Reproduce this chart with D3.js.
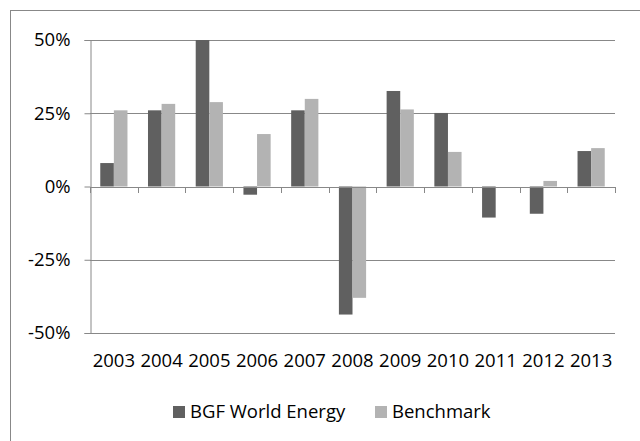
<!DOCTYPE html>
<html>
<head>
<meta charset="utf-8">
<script src="https://cdn.jsdelivr.net/npm/d3@7"></script>
<style>
  html, body { margin: 0; padding: 0; background: #fff; }
  svg { display: block; }
  text { font-family: "Open Sans", "Noto Sans", sans-serif; fill: #000; }
</style>
</head>
<body>
<svg id="chart" width="640" height="441"></svg>
<script>
const categories = ["2003","2004","2005","2006","2007","2008","2009","2010","2011","2012","2013"];
const seriesNames = ["BGF World Energy", "Benchmark"];
const fundValues = [8, 26, 50, -2.8, 26, -43.7, 32.6, 25.1, -10.6, -9.3, 12.1];
const benchmarkValues = [26, 28.2, 28.8, 17.9, 29.9, -38, 26.3, 11.8, 0, 1.9, 13.1];
const yTicks = [-50, -25, 0, 25, 50];
const colors = ["#606060", "#b3b3b3"];

const svg = d3.select("#chart");
const W = 640, H = 441;

// outer chart border (extends past the canvas, as in the reference)
svg.append("rect")
  .attr("x", 10.5).attr("y", 10.5)
  .attr("width", W).attr("height", H)
  .attr("fill", "#fff").attr("stroke", "#888").attr("stroke-width", 1);

const plot = { left: 90, right: 615, top: 40, bottom: 333 };

const x = d3.scaleBand().domain(categories).range([plot.left, plot.right]).paddingInner(0.43).paddingOuter(0.215);
const step = (plot.right - plot.left) / categories.length;
const xSub = d3.scaleBand().domain(seriesNames).range([0, x.bandwidth()]);
const y = d3.scaleLinear().domain([-50, 50]).range([plot.bottom, plot.top]);

// gridlines
svg.append("g").selectAll("line").data(yTicks.filter(d => d !== 0)).join("line")
  .attr("x1", plot.left).attr("x2", plot.right)
  .attr("y1", d => Math.round(y(d)) + 0.5).attr("y2", d => Math.round(y(d)) + 0.5)
  .attr("stroke", "#888").attr("stroke-width", 1);

// bars
const data = categories.map((c, i) => ({ cat: c, vals: [fundValues[i], benchmarkValues[i]] }));
const groups = svg.append("g").selectAll("g").data(data).join("g")
  .attr("transform", d => `translate(${x(d.cat)},0)`);
groups.selectAll("rect").data(d => d.vals.map((v, j) => ({ v, s: seriesNames[j], j })))
  .join("rect")
  .attr("x", d => xSub(d.s))
  .attr("width", xSub.bandwidth())
  .attr("y", d => y(Math.max(0, d.v)))
  .attr("height", d => Math.abs(y(d.v) - y(0)))
  .attr("fill", d => colors[d.j]);

// zero line / x axis with ticks below
const xAxisG = svg.append("g");
xAxisG.append("line")
  .attr("x1", plot.left).attr("x2", plot.right)
  .attr("y1", Math.round(y(0)) + 0.5).attr("y2", Math.round(y(0)) + 0.5)
  .attr("stroke", "#888");
const tickXs = d3.range(categories.length + 1).map(i => plot.left + i * step);
xAxisG.selectAll("line.tk").data(tickXs).join("line").attr("class", "tk")
  .attr("x1", d => Math.round(d) + 0.5).attr("x2", d => Math.round(d) + 0.5)
  .attr("y1", Math.round(y(0))).attr("y2", Math.round(y(0)) + 6)
  .attr("stroke", "#888");

// y axis
const yAxis = d3.axisLeft(y).tickValues(yTicks).tickSize(6).tickPadding(14)
  .tickFormat(d => d + "%");
const yG = svg.append("g").attr("transform", `translate(${plot.left + 0.5},0)`).call(yAxis);
yG.select(".domain").attr("stroke", "#888");
yG.selectAll(".tick line").attr("stroke", "#888");
yG.selectAll(".tick text").style("font-size", "18.5px").attr("fill", "#000")
  .style("font-family", '"Open Sans", sans-serif');

// category labels
svg.append("g").selectAll("text").data(categories).join("text")
  .attr("x", d => x(d) + x.bandwidth() / 2)
  .attr("y", 361)
  .attr("dy", "0.35em")
  .attr("text-anchor", "middle")
  .style("font-size", "18.5px")
  .text(d => d);

// legend
const legendItems = [
  { name: seriesNames[0], color: colors[0], sx: 173, tx: 190 },
  { name: seriesNames[1], color: colors[1], sx: 375, tx: 392 }
];
const lg = svg.append("g");
lg.selectAll("rect").data(legendItems).join("rect")
  .attr("x", d => d.sx).attr("y", 406).attr("width", 12).attr("height", 12)
  .attr("fill", d => d.color);
lg.selectAll("text").data(legendItems).join("text")
  .attr("x", d => d.tx).attr("y", 412).attr("dy", "0.35em")
  .style("font-size", "18.5px")
  .text(d => d.name);
</script>
</body>
</html>
